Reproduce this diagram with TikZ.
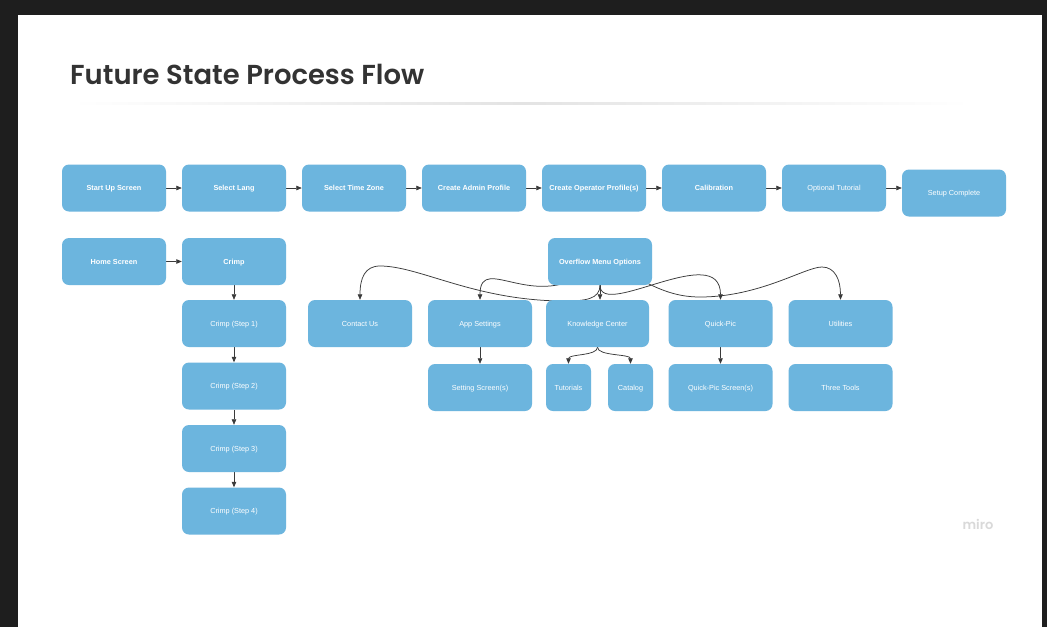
\documentclass[tikz,border=0pt]{standalone}
\usepackage{fontspec}
\setmainfont{Liberation Sans}
\newfontfamily\titlefont{Poppins SemiBold}
\usepackage{graphicx}
\usetikzlibrary{arrows.meta}
\definecolor{boxblue}{HTML}{6CB5DE}
\definecolor{framebg}{HTML}{1E1E1E}
\definecolor{titlegray}{HTML}{333333}
\definecolor{linegray}{HTML}{3A3A3A}
\pgfdeclarelayer{bglayer}
\pgfdeclarelayer{connlayer}
\pgfsetlayers{bglayer,connlayer,main}
\tikzset{
  box/.style={rectangle, rounded corners=7pt, fill=boxblue, minimum width=104pt,
    minimum height=47pt, inner sep=0pt, text=white, align=center,
    text height=5.3pt, text depth=0pt,
    font=\fontsize{7.3}{9}\selectfont},
  boldbox/.style={box, font=\fontsize{7.3}{9}\selectfont\bfseries},
  narrowbox/.style={box, minimum width=45pt},
  conn/.style={draw=linegray, line width=0.75pt, -{Triangle[length=5.5pt,width=4.5pt]}},
}
\begin{document}
\begin{tikzpicture}[x=1pt,y=-1pt]
\useasboundingbox (0,0) rectangle (1047,627);
\begin{pgfonlayer}{bglayer}
  \fill[framebg] (0,0) rectangle (1047,627);
  \fill[white] (18,15) rectangle (1042,627);
  \fill[left color=white, right color=white, middle color=gray!22] (72,102.5) rectangle (970,104.5);
\end{pgfonlayer}

% title
\node[anchor=base west, inner sep=0pt, text=titlegray] (title) at (70,84)
  {\resizebox{354pt}{!}{\titlefont Future State Process Flow}};
\node[anchor=center, inner sep=0pt, text=gray!30] (miro) at (978,524)
  {\titlefont\fontsize{13}{14}\selectfont miro};

% row 1
\node[boldbox] (su) at (114,188) {Start Up Screen};
\node[boldbox] (sl) at (234,188) {Select Lang};
\node[boldbox] (tz) at (354,188) {Select Time Zone};
\node[boldbox] (ap) at (474,188) {Create Admin Profile};
\node[boldbox] (op) at (594,188) {Create Operator Profile(s)};
\node[boldbox] (ca) at (714,188) {Calibration};
\node[box] (ot) at (834,188) {Optional Tutorial};
\node[box] (sc) at (954,193) {Setup Complete};

% row 2
\node[boldbox] (hs) at (114,261.5) {Home Screen};
\node[boldbox] (cr) at (234,261.5) {Crimp};
\node[boldbox] (ov) at (600,261.5) {Overflow Menu Options};

% crimp steps
\node[box] (c1) at (234,323.5) {Crimp (Step 1)};
\node[box] (c2) at (234,386) {Crimp (Step 2)};
\node[box] (c3) at (234,448.5) {Crimp (Step 3)};
\node[box] (c4) at (234,511) {Crimp (Step 4)};

% row 3
\node[box] (cu) at (360,323.5) {Contact Us};
\node[box] (as) at (480,323.5) {App Settings};
\node[box, minimum width=103pt] (kc) at (597.5,323.5) {Knowledge Center};
\node[box] (qp) at (720.5,323.5) {Quick-Pic};
\node[box] (ut) at (840.5,323.5) {Utilities};

% row 4
\node[box] (ss) at (480,387.5) {Setting Screen(s)};
\node[narrowbox] (tu) at (568.5,387.5) {Tutorials};
\node[narrowbox] (cg) at (630.5,387.5) {Catalog};
\node[box] (qs) at (720.5,387.5) {Quick-Pic Screen(s)};
\node[box] (tt) at (840.5,387.5) {Three Tools};

\begin{pgfonlayer}{connlayer}
  % row 1 chain
  \draw[conn] (su.east) -- (sl.west);
  \draw[conn] (sl.east) -- (tz.west);
  \draw[conn] (tz.east) -- (ap.west);
  \draw[conn] (ap.east) -- (op.west);
  \draw[conn] (op.east) -- (ca.west);
  \draw[conn] (ca.east) -- (ot.west);
  \draw[conn] (ot.east) -- (ot.east -| sc.west);
  % row 2
  \draw[conn] (hs.east) -- (cr.west);
  \draw[conn] (cr.south) -- (c1.north);
  \draw[conn] (c1.south) -- (c2.north);
  \draw[conn] (c2.south) -- (c3.north);
  \draw[conn] (c3.south) -- (c4.north);
  % overflow connectors
  \draw[conn] (ov.south) .. controls +(0,14) and +(20,0) .. (565,301)
     .. controls +(-90,0) and +(40,0) .. (380,266)
     .. controls +(-15,0) and +(0,-22) .. (cu.north);
  \draw[conn] (ov.center) .. controls +(-60,59) and +(0,-50) .. (as.north);
  \draw[conn] (ov.south) -- (ov.south |- kc.north);
  \draw[conn] (ov.south) .. controls +(0,35) and +(0,-60) .. (qp.north);
  \draw[conn] (ov.center) .. controls +(40,14) and +(-40,0) .. (700,297)
     .. controls +(60,0) and +(-17,0) .. (822,267)
     .. controls +(13,0) and +(0,-20) .. (ut.north);
  % sub items
  \draw[conn] (as.south) -- (ss.north);
  \draw[conn] (qp.south) -- (qs.north);
  \draw[conn] (kc.south) .. controls +(0,9) and +(0,-10) .. (tu.north);
  \draw[conn] (kc.south) .. controls +(0,9) and +(0,-10) .. (cg.north);
\end{pgfonlayer}
\end{tikzpicture}
\end{document}
